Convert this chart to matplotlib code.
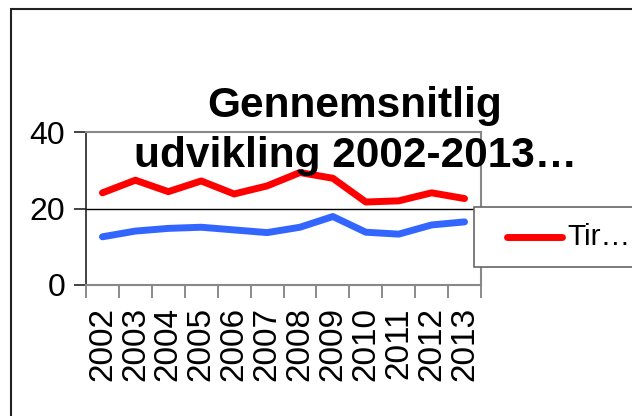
import matplotlib
matplotlib.use('Agg')
import matplotlib.pyplot as plt
from matplotlib.patches import Rectangle
from matplotlib.lines import Line2D

plt.rcParams['font.family'] = ['Liberation Sans', 'DejaVu Sans']

years = ['2002', '2003', '2004', '2005', '2006', '2007',
         '2008', '2009', '2010', '2011', '2012', '2013']
red_values = [24.1, 27.4, 24.4, 27.2, 23.8, 25.9, 29.4, 27.9, 21.7, 22.0, 24.1, 22.6]
blue_values = [12.6, 14.1, 14.8, 15.1, 14.4, 13.7, 15.1, 17.9, 13.8, 13.3, 15.7, 16.5]
legend_label = 'Tir…'
title_lines = ['Gennemsnitlig', 'udvikling 2002-2013…']

W, H = 632, 416
fig = plt.figure(figsize=(W / 100, H / 100), dpi=100)

# outer chart border (runs off the right/bottom edge)
fig.patches.append(Rectangle((11 / W, -0.1), 1.2, 1 - 9 / H + 0.1, transform=fig.transFigure,
                             fill=False, edgecolor='#222222', linewidth=1.5))

ax = fig.add_axes([86 / W, 1 - 285 / H, (481 - 86) / W, (285 - 132) / H])
x = list(range(len(years)))
ax.plot(x, red_values, color='#ff0000', linewidth=5, solid_capstyle='round', zorder=3)
ax.plot(x, blue_values, color='#3366ff', linewidth=5, solid_capstyle='round', zorder=3)

ax.set_xlim(-0.5, len(years) - 0.5)
ax.set_ylim(0, 40)
ax.set_yticks([0, 20, 40])
ax.set_yticklabels(['0', '20', '40'], fontsize=23)
ax.axhline(20, color='black', linewidth=1, zorder=1)

ax.set_xticks([i - 0.5 for i in range(len(years) + 1)], minor=False)
ax.set_xticklabels([])
ax.set_xticks(x, minor=True)
ax.set_xticklabels(years, minor=True, rotation=90, fontsize=24)
ax.tick_params(axis='x', which='major', length=9, color='#777777', width=1.2, direction='out')
ax.tick_params(axis='x', which='minor', length=0, pad=16)
ax.tick_params(axis='y', length=9, color='#222222', width=1.2, pad=6)

for side in ['top', 'right', 'bottom']:
    ax.spines[side].set_color('#888888')
    ax.spines[side].set_linewidth(1.5)
ax.spines['left'].set_color('#222222')
ax.spines['left'].set_linewidth(1.2)

# title overlapping the plot area
fig.text(355 / W, 1 - 117 / H, title_lines[0], ha='center', va='baseline',
         fontsize=30.5, fontweight='bold')
fig.text(355 / W, 1 - 167 / H, title_lines[1], ha='center', va='baseline',
         fontsize=30.5, fontweight='bold')

# legend box, clipped by the right edge
fig.patches.append(Rectangle((474 / W, 1 - 267 / H), 0.5, 60 / H, transform=fig.transFigure,
                             facecolor='white', edgecolor='#666666', linewidth=1.2, zorder=5))
fig.lines.append(Line2D([507 / W, 562 / W], [1 - 237 / H] * 2, transform=fig.transFigure,
                        color='#ff0000', linewidth=5, solid_capstyle='round', zorder=6))
fig.text(567 / W, 1 - 237 / H, legend_label, ha='left', va='center', fontsize=21.5, zorder=6)

fig.savefig('out.png', dpi=100)
